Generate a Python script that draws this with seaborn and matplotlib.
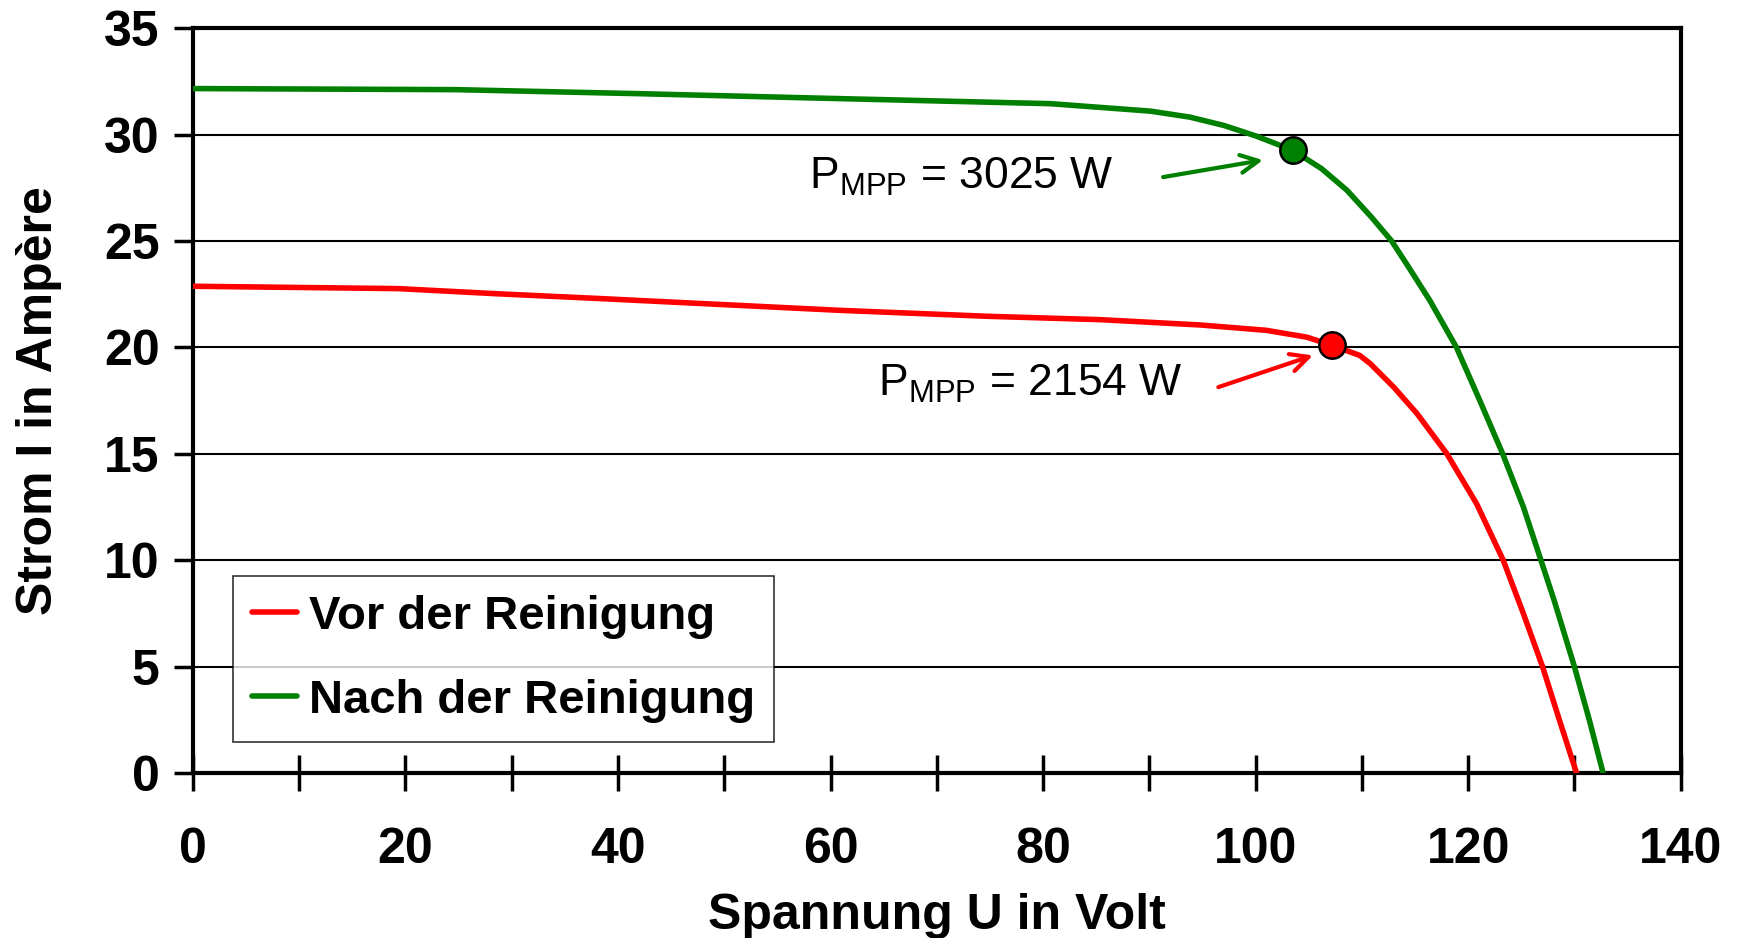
import pandas as pd
import numpy as np
import matplotlib
matplotlib.use("Agg")
import matplotlib.pyplot as plt
import seaborn as sns
from matplotlib.ticker import MultipleLocator

# I-V curves (voltage in V, current in A)
u_vor = [0, 19.3, 28.5, 38.4, 60.8, 74.7, 85.4, 94.8, 101.0, 104.8, 107.2, 109.8, 110.8,
         113.0, 115.2, 118.0, 120.8, 123.3, 125.2, 127.0, 128.6, 130.2]
i_vor = [22.87, 22.76, 22.52, 22.29, 21.74, 21.46, 21.3, 21.05, 20.8, 20.48, 20.09, 19.62, 19.23,
         18.13, 16.88, 15.0, 12.65, 10.0, 7.49, 5.0, 2.47, 0.0]

u_nach = [0, 24.7, 42.0, 58.2, 80.7, 90.1, 93.8, 97.0, 100.1, 103.5, 106.2, 108.6, 110.9,
          112.8, 114.4, 116.4, 118.9, 121.1, 123.25, 125.2, 126.85, 128.1, 130.0, 131.4, 132.7]
i_nach = [32.16, 32.11, 31.92, 31.72, 31.45, 31.1, 30.82, 30.43, 29.92, 29.26, 28.4, 27.38, 26.12,
          25.0, 23.77, 22.2, 20.0, 17.5, 15.0, 12.5, 10.0, 8.1, 5.0, 2.5, 0.0]

mpp_u = [107.2, 103.5]
mpp_i = [20.09, 29.26]
mpp_text = ["2154 W", "3025 W"]
labels = ["Vor der Reinigung", "Nach der Reinigung"]
colors = ["#ff0000", "#008000"]

df = pd.concat([
    pd.DataFrame({"U": u_vor, "I": i_vor, "Kurve": labels[0]}),
    pd.DataFrame({"U": u_nach, "I": i_nach, "Kurve": labels[1]}),
])

sns.set_style("white")
plt.rcParams["font.family"] = ["Liberation Sans", "DejaVu Sans"]
plt.rcParams["mathtext.fontset"] = "custom"
plt.rcParams["mathtext.rm"] = "Liberation Sans"
for key in ["text.color", "axes.labelcolor", "xtick.color", "ytick.color"]:
    plt.rcParams[key] = "black"

fig = plt.figure(figsize=(17.38, 9.38), dpi=100)
ax = fig.add_axes([0.111, 0.176, 0.856, 0.794])

sns.lineplot(data=df, x="U", y="I", hue="Kurve", palette=colors, sort=False,
             linewidth=4, ax=ax, zorder=3)
for line in ax.get_lines():
    line.set_solid_joinstyle("round")
    line.set_solid_capstyle("round")

for u, i, c in zip(mpp_u, mpp_i, colors):
    ax.plot(u, i, "o", color=c, markersize=19, markeredgecolor="black",
            markeredgewidth=1.8, zorder=5)

# annotations: text and arrows kept apart like in the original
ax.text(58, 28.0, r"$\mathregular{P_{MPP}}$ = " + mpp_text[1], fontsize=32,
        va="center", ha="left", zorder=6)
ax.text(64.5, 18.3, r"$\mathregular{P_{MPP}}$ = " + mpp_text[0], fontsize=32,
        va="center", ha="left", zorder=6)
ax.annotate("", xy=(100.7, 28.8), xytext=(91.3, 28.0),
            arrowprops=dict(arrowstyle="->", color=colors[1], lw=3, mutation_scale=32,
                            shrinkA=0, shrinkB=0), zorder=6)
ax.annotate("", xy=(105.4, 19.62), xytext=(96.5, 18.13),
            arrowprops=dict(arrowstyle="->", color=colors[0], lw=3, mutation_scale=32,
                            shrinkA=0, shrinkB=0), zorder=6)

ax.set_xlim(0, 140)
ax.set_ylim(0, 35)
ax.xaxis.set_major_locator(MultipleLocator(20))
ax.xaxis.set_minor_locator(MultipleLocator(10))
ax.yaxis.set_major_locator(MultipleLocator(5))
ax.grid(axis="y", color="black", linewidth=1.5)
ax.set_axisbelow(True)

ax.tick_params(axis="x", which="both", direction="inout", length=26, width=2.5,
               pad=26, labelsize=36, bottom=True)
ax.tick_params(axis="y", which="major", direction="out", length=14, width=2.5,
               pad=10, labelsize=36, left=True)
for lab in ax.get_xticklabels() + ax.get_yticklabels():
    lab.set_fontweight("bold")

for s in ax.spines.values():
    s.set_color("black")
    s.set_linewidth(3)

ax.set_xlabel("Spannung U in Volt", fontsize=36, fontweight="bold", labelpad=14)
ax.set_ylabel("Strom I in Ampère", fontsize=36, fontweight="bold", labelpad=30)

leg = ax.legend(loc="lower left", bbox_to_anchor=(0.027, 0.042),
                prop={"weight": "bold", "size": 34}, frameon=True, fancybox=False,
                handlelength=0.95, handletextpad=0.25, borderpad=0.4, labelspacing=0.85,
                borderaxespad=0)
leg.get_frame().set_edgecolor("black")
leg.get_frame().set_linewidth(1.2)
leg.set_zorder(10)
for line in leg.get_lines():
    line.set_linewidth(4)

fig.savefig("out.png", dpi=100)
